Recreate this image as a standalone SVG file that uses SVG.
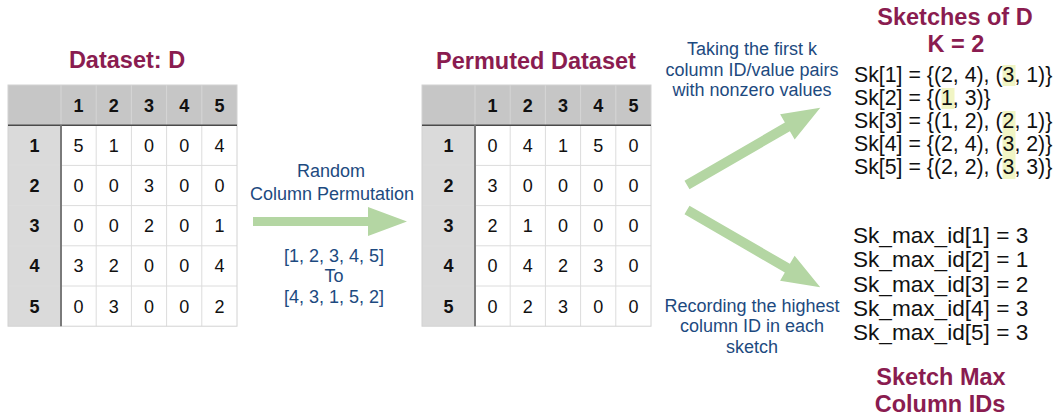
<svg xmlns="http://www.w3.org/2000/svg" width="1055" height="420" viewBox="0 0 1055 420">
  <defs>
    <style>
      .title { font-family: "Liberation Sans", Arial, sans-serif; font-weight: bold; font-size: 23.5px; fill: #8a1c50; text-anchor: middle; }
      .note { font-family: "Liberation Sans", Arial, sans-serif; font-size: 18px; fill: #1d4a80; text-anchor: middle; }
      .mono { font-family: "Liberation Sans", Arial, sans-serif; fill: #111; }
      .cell { font-family: "Liberation Sans", Arial, sans-serif; font-size: 18px; fill: #111; text-anchor: middle; }
      .hd { font-weight: bold; }
      .hdr { fill: #c6c6c6; }
      .side { fill: #dadada; }
      .body { fill: #ffffff; }
      .grid { stroke: #dcdcdc; stroke-width: 1; fill: none; }
      .gridhd { stroke: #d6d6d6; stroke-width: 1; fill: none; }
      .rule { stroke: #4a4a4a; stroke-width: 1.5; }
      .vrule { stroke: #7a7a7a; stroke-width: 2; }
      .arrow { fill: #b4d6a3; }
      .hl { fill: #f1f5c4; }
    </style>
    <!-- 5x5 table frame: header row, index column, grid and rules -->
    <g id="tableFrame">
      <rect class="body" x="0" y="0" width="229" height="241.2"/>
      <rect class="hdr" x="0" y="0" width="229" height="40.2"/>
      <rect class="side" x="0" y="40.2" width="53" height="201"/>
      <path class="gridhd" d="M53 0V40.2M88.2 0V40.2M123.4 0V40.2M158.6 0V40.2M193.8 0V40.2"/>
      <path class="grid" d="M88.2 40.2V241.2M123.4 40.2V241.2M158.6 40.2V241.2M193.8 40.2V241.2M0 80.4H229M0 120.6H229M0 160.8H229M0 201H229"/>
      <rect x="0" y="0" width="229" height="241.2" fill="none" stroke="#d2d2d2" stroke-width="1"/>
      <line class="rule" x1="0" y1="40.2" x2="229" y2="40.2"/>
      <line class="vrule" x1="53" y1="40.2" x2="53" y2="241.2"/>
      <g class="cell hd">
        <text x="70.6" y="26.6">1</text><text x="105.8" y="26.6">2</text><text x="141" y="26.6">3</text><text x="176.2" y="26.6">4</text><text x="211.4" y="26.6">5</text>
        <text x="26.5" y="66.8">1</text><text x="26.5" y="107">2</text><text x="26.5" y="147.2">3</text><text x="26.5" y="187.4">4</text><text x="26.5" y="227.6">5</text>
      </g>
    </g>
  </defs>

  <!-- Original dataset -->
  <g id="dataset">
    <text class="title" x="127" y="68">Dataset: D</text>
    <g transform="translate(8,85)">
      <use href="#tableFrame"/>
      <g class="cell">
        <text x="70.6" y="66.8">5</text><text x="105.8" y="66.8">1</text><text x="141" y="66.8">0</text><text x="176.2" y="66.8">0</text><text x="211.4" y="66.8">4</text>
        <text x="70.6" y="107">0</text><text x="105.8" y="107">0</text><text x="141" y="107">3</text><text x="176.2" y="107">0</text><text x="211.4" y="107">0</text>
        <text x="70.6" y="147.2">0</text><text x="105.8" y="147.2">0</text><text x="141" y="147.2">2</text><text x="176.2" y="147.2">0</text><text x="211.4" y="147.2">1</text>
        <text x="70.6" y="187.4">3</text><text x="105.8" y="187.4">2</text><text x="141" y="187.4">0</text><text x="176.2" y="187.4">0</text><text x="211.4" y="187.4">4</text>
        <text x="70.6" y="227.6">0</text><text x="105.8" y="227.6">3</text><text x="141" y="227.6">0</text><text x="176.2" y="227.6">0</text><text x="211.4" y="227.6">2</text>
      </g>
    </g>
  </g>

  <!-- Column-permuted dataset -->
  <g id="permuted">
    <text class="title" x="536" y="69">Permuted Dataset</text>
    <g transform="translate(422,85)">
      <use href="#tableFrame"/>
      <g class="cell">
        <text x="70.6" y="66.8">0</text><text x="105.8" y="66.8">4</text><text x="141" y="66.8">1</text><text x="176.2" y="66.8">5</text><text x="211.4" y="66.8">0</text>
        <text x="70.6" y="107">3</text><text x="105.8" y="107">0</text><text x="141" y="107">0</text><text x="176.2" y="107">0</text><text x="211.4" y="107">0</text>
        <text x="70.6" y="147.2">2</text><text x="105.8" y="147.2">1</text><text x="141" y="147.2">0</text><text x="176.2" y="147.2">0</text><text x="211.4" y="147.2">0</text>
        <text x="70.6" y="187.4">0</text><text x="105.8" y="187.4">4</text><text x="141" y="187.4">2</text><text x="176.2" y="187.4">3</text><text x="211.4" y="187.4">0</text>
        <text x="70.6" y="227.6">0</text><text x="105.8" y="227.6">2</text><text x="141" y="227.6">3</text><text x="176.2" y="227.6">0</text><text x="211.4" y="227.6">0</text>
      </g>
    </g>
  </g>

  <!-- Sketches with highlighted last column IDs -->
  <g id="sketches">
    <text class="title" x="955" y="25">Sketches of D</text>
    <text class="title" x="956" y="52">K = 2</text>
    <rect class="hl" x="1002.5" y="65" width="13" height="21"/>
    <rect class="hl" x="941.5" y="88" width="13" height="21"/>
    <rect class="hl" x="1002.5" y="111" width="13" height="68"/>
    <g class="mono" font-size="21.3">
      <text x="854" y="82">Sk[1] = {(2, 4), (3, 1)}</text>
      <text x="854" y="105">Sk[2] = {(1, 3)}</text>
      <text x="854" y="128">Sk[3] = {(1, 2), (2, 1)}</text>
      <text x="854" y="151">Sk[4] = {(2, 4), (3, 2)}</text>
      <text x="854" y="174">Sk[5] = {(2, 2), (3, 3)}</text>
    </g>
  </g>

  <!-- Maximum column ID per sketch -->
  <g id="maxids">
    <g class="mono" font-size="22.6">
      <text x="853" y="243">Sk_max_id[1] = 3</text>
      <text x="853" y="267.3">Sk_max_id[2] = 1</text>
      <text x="853" y="291.5">Sk_max_id[3] = 2</text>
      <text x="853" y="315.8">Sk_max_id[4] = 3</text>
      <text x="853" y="340">Sk_max_id[5] = 3</text>
    </g>
    <text class="title" x="941" y="385">Sketch Max</text>
    <text class="title" x="940" y="412">Column IDs</text>
  </g>

  <!-- Arrows and their captions -->
  <g id="connectors">
    <polygon class="arrow" points="253,217 368,217 368,207 407,221.5 368,236 368,226 253,226"/>
    <polygon class="arrow" transform="translate(687,185) rotate(-30.07)" points="0,-5 116,-5 116,-14.5 154,0 116,14.5 116,5 0,5"/>
    <polygon class="arrow" transform="translate(687,210) rotate(30.1)" points="0,-5 116,-5 116,-14.5 154,0 116,14.5 116,5 0,5"/>

    <text class="note" x="331" y="177">Random</text>
    <text class="note" x="332" y="200">Column Permutation</text>
    <text class="note" x="334" y="262">[1, 2, 3, 4, 5]</text>
    <text class="note" x="334" y="282">To</text>
    <text class="note" x="334" y="303">[4, 3, 1, 5, 2]</text>

    <text class="note" x="752" y="55">Taking the first k</text>
    <text class="note" x="752" y="75.5">column ID/value pairs</text>
    <text class="note" x="752" y="95.5">with nonzero values</text>

    <text class="note" x="752" y="312">Recording the highest</text>
    <text class="note" x="752" y="332">column ID in each</text>
    <text class="note" x="752" y="353">sketch</text>
  </g>
</svg>
